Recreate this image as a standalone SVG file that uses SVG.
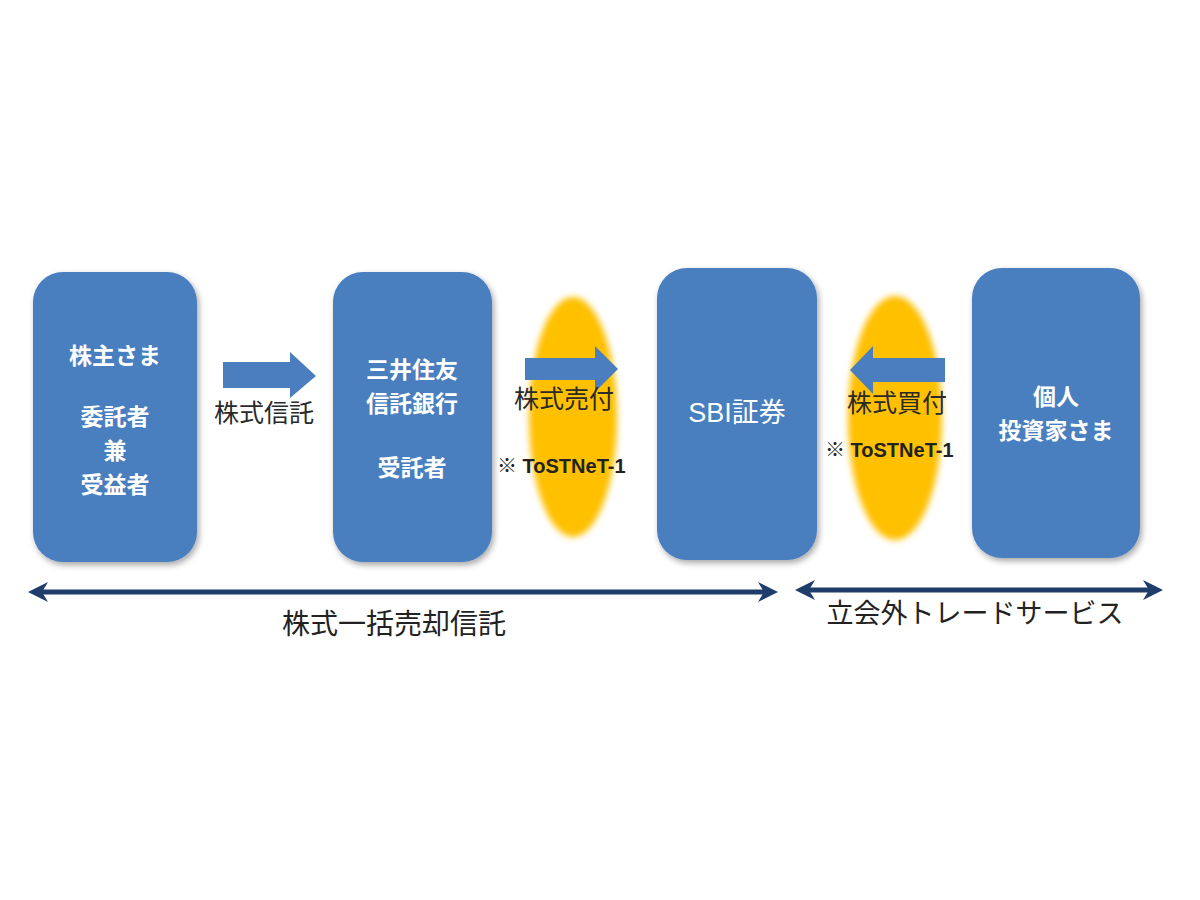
<svg xmlns="http://www.w3.org/2000/svg" width="1200" height="900" viewBox="0 0 1200 900">
<style>
.box{fill:#4a7ebf;filter:url(#sh)}
.wt{fill:#ffffff;font-family:"Noto Sans CJK JP","Noto Sans",sans-serif;font-size:23px;font-weight:bold;text-anchor:middle}
.lb{fill:#2a2a2a;font-family:"Noto Sans CJK JP","Noto Sans",sans-serif;font-size:25px;text-anchor:middle}
.nt{fill:#222;font-family:"Liberation Sans","Noto Sans CJK JP",sans-serif;font-size:20px;font-weight:bold}
.big{fill:#222;font-family:"Noto Sans CJK JP",sans-serif;font-size:28px;text-anchor:middle}
.blk{fill:#4a7ebf}
.ell{fill:#ffc000;filter:url(#bl)}
.dl{stroke:#1f3d6b;stroke-width:5;fill:none;marker-start:url(#ah);marker-end:url(#ah)}
</style>
<defs>
<filter id="sh" x="-10%" y="-10%" width="125%" height="125%"><feGaussianBlur in="SourceAlpha" stdDeviation="3"/><feOffset dx="2" dy="3"/><feComponentTransfer><feFuncA type="linear" slope="0.35"/></feComponentTransfer><feMerge><feMergeNode/><feMergeNode in="SourceGraphic"/></feMerge></filter>
<filter id="bl" x="-20%" y="-10%" width="140%" height="120%"><feGaussianBlur stdDeviation="3"/></filter>
<marker id="ah" viewBox="0 0 10 10" refX="5" refY="5" markerWidth="4" markerHeight="4" orient="auto-start-reverse"><path d="M0,0 L10,5 L0,10 L3,5 Z" fill="#1f3d6b"/></marker>
</defs>
<rect width="1200" height="900" fill="#ffffff"/>
<g id="ellipses">
<ellipse class="ell" cx="573" cy="417" rx="44" ry="120"/>
<ellipse class="ell" cx="895" cy="418" rx="47" ry="122"/>
</g>
<g id="n1"><rect class="box" x="33" y="272" width="164" height="290" rx="30"/>
<text class="wt" x="115" y="364">株主さま</text>
<text class="wt" x="115" y="425">委託者</text>
<text class="wt" x="115" y="459">兼</text>
<text class="wt" x="115" y="493">受益者</text></g>
<g id="n2"><rect class="box" x="333" y="272" width="159" height="290" rx="30"/>
<text class="wt" x="412" y="378">三井住友</text>
<text class="wt" x="412" y="412">信託銀行</text>
<text class="wt" x="412" y="476">受託者</text></g>
<g id="n3"><rect class="box" x="657" y="268" width="160" height="292" rx="30"/>
<text class="wt" x="737" y="422" style="font-size:27px;font-weight:normal;font-family:'Liberation Sans','Noto Sans CJK JP',sans-serif">SBI証券</text></g>
<g id="n4"><rect class="box" x="972" y="268" width="168" height="290" rx="30"/>
<text class="wt" x="1056" y="405">個人</text>
<text class="wt" x="1056" y="439">投資家さま</text></g>
<g id="connectors">
<path class="blk" d="M223,362 L290,362 L290,352 L316,376 L290,398 L290,388 L223,388 Z"/>
<path class="blk" d="M525,358 L595,358 L595,346 L618,369 L595,392 L595,380 L525,380 Z"/>
<path class="blk" d="M945,358 L873,358 L873,346 L850,370 L873,394 L873,382 L945,382 Z"/>
<line class="dl" x1="38" y1="592" x2="768" y2="592"/>
<line class="dl" x1="805" y1="590" x2="1153" y2="590"/>
</g>
<g id="labels">
<text class="lb" x="264" y="422">株式信託</text>
<text class="lb" x="564" y="408">株式売付</text>
<text class="nt" x="497" y="473">※ ToSTNeT-1</text>
<text class="lb" x="897" y="412">株式買付</text>
<text class="nt" x="825" y="457">※ ToSTNeT-1</text>
<text class="big" x="394" y="634">株式一括売却信託</text>
<text class="big" x="975" y="623" style="font-size:27px">立会外トレードサービス</text>
</g>
</svg>
